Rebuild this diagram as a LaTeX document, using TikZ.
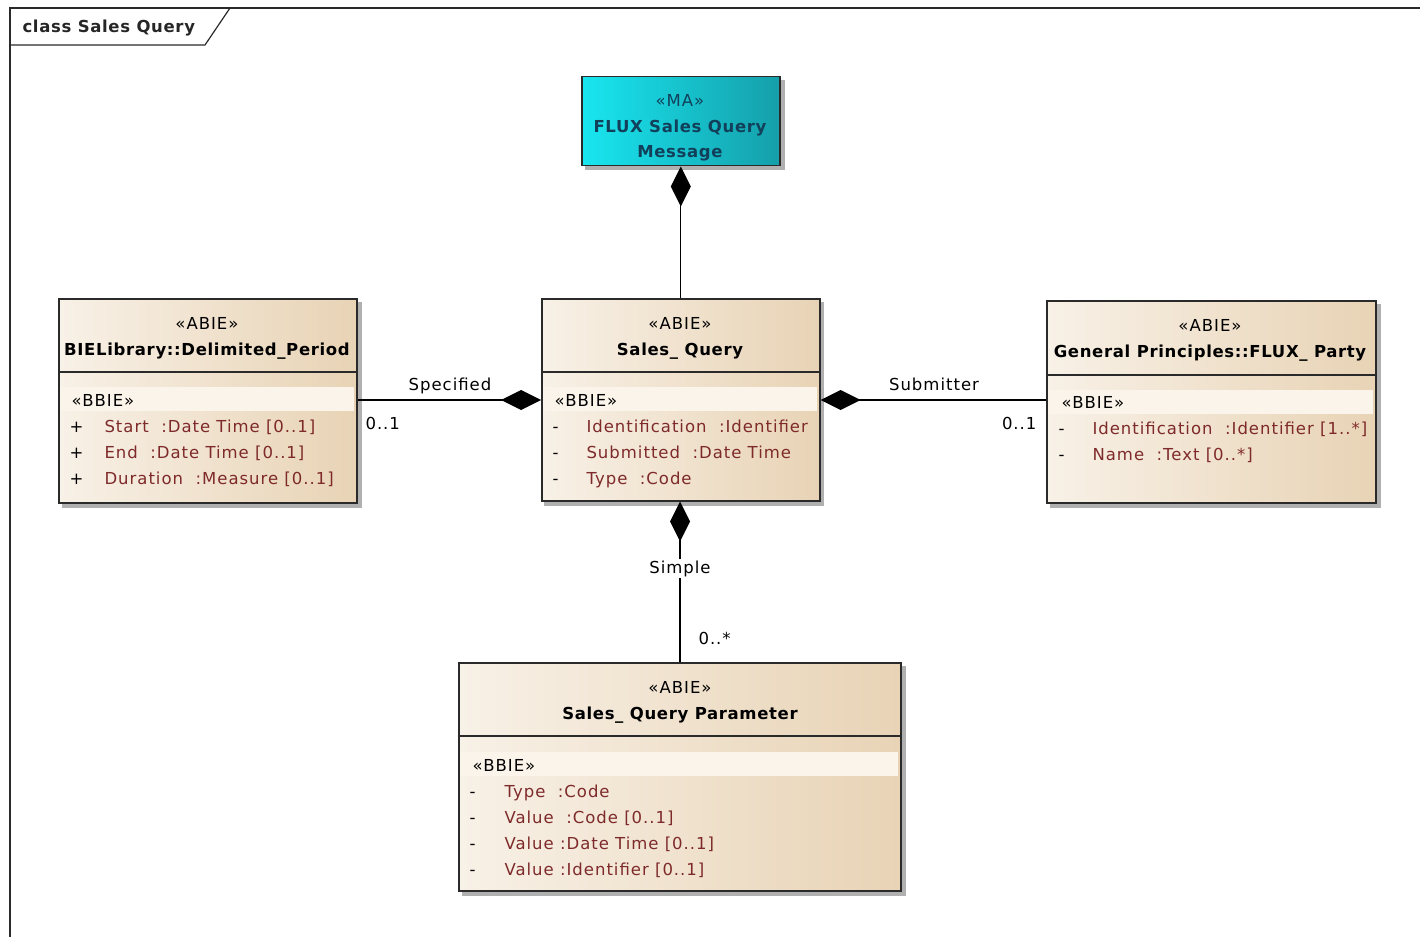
\documentclass[tikz,border=0pt]{standalone}
\usepackage{fontspec}
\setmainfont{DejaVu Sans}[LetterSpace=6, BoldFeatures={LetterSpace=4}]
\usetikzlibrary{arrows.meta,calc}
\definecolor{bgA}{HTML}{F8F1E7}
\definecolor{bgB}{HTML}{E8D3B5}
\definecolor{band}{HTML}{FBF4EA}
\definecolor{attr}{HTML}{7E2A2A}
\definecolor{cyA}{HTML}{18E6F0}
\definecolor{cyB}{HTML}{159FAA}
\definecolor{cyT}{HTML}{12405A}
\definecolor{edge}{HTML}{2A2A2A}
\definecolor{shad}{HTML}{B0B0B0}
\tikzset{
  cls/.style={draw=edge, line width=1.5pt, left color=bgA, right color=bgB, anchor=north west, inner sep=0pt},
  ma/.style={draw=edge, line width=1.5pt, left color=cyA, right color=cyB, anchor=north west, inner sep=0pt},
  hd/.style={font=\fontsize{16.5}{19}\selectfont, anchor=base, text=black},
  hdb/.style={font=\fontsize{16.5}{19}\selectfont\bfseries, anchor=base, text=black},
  mat/.style={font=\fontsize{16.5}{19}\selectfont\bfseries, anchor=base, text=cyT},
  st/.style={font=\fontsize{16.5}{19}\selectfont, anchor=base west, text=black},
  attrtxt/.style={font=\fontsize{16.5}{19}\selectfont, anchor=base west, text=attr},
  vis/.style={font=\fontsize{16.5}{19}\selectfont, anchor=base west, text=black},
  lbl/.style={font=\fontsize{16.5}{19}\selectfont, anchor=base, text=black},
  comp/.style={draw=black, line width=1.4pt, -{Diamond[length=40pt,width=20pt]}},
}
\begin{document}
\begin{tikzpicture}[x=1pt,y=-1pt]
\useasboundingbox (0,0) rectangle (1420,936);
\clip (0,0) rectangle (1420,936);
% frame
\draw[line width=1.2pt, draw=edge] (10,950) -- (10,8) -- (1430,8);
\draw[line width=1.2pt, draw=edge] (10,45) -- (205,45) -- (230,8);
\node[font=\fontsize{16.5}{19}\selectfont\bfseries, anchor=base west, text=black!85] (title) at (19,33) {class Sales Query};

% shadows
\fill[shad] (585,80) rectangle (785,170);
\fill[shad] (544,302) rectangle (824,506);
\fill[shad] (62,302) rectangle (362,508);
\fill[shad] (1050,304) rectangle (1381,508);
\fill[shad] (462,666) rectangle (906,896);

% FLUX message
\node[ma, minimum width=198pt, minimum height=89pt] (msg) at (581,76) {};
\node[hd, text=cyT] (msgs) at (680,107) {«MA»};
\node[mat] (msgn1) at (680,133) {FLUX Sales Query};
\node[mat] (msgn2) at (680,158) {Message};

% Sales Query
\node[cls, minimum width=278pt, minimum height=202pt] (sq) at (541,298) {};
\fill[band] (543,387) rectangle (817,411);
\draw[edge, line width=1.2pt] (541,372) -- (819,372);
\node[hd] (sqs) at (680,329) {«ABIE»};
\node[hdb] (sqn) at (680,355) {Sales\_ Query};
\node[st] (sqb) at (551,406) {«BBIE»};
\node[vis] (sqv1) at (549,432) {-};
\node[vis] (sqv2) at (549,458) {-};
\node[vis] (sqv3) at (549,484) {-};
\node[attrtxt] (sqa1) at (583,432) {Identification \ :Identifier};
\node[attrtxt] (sqa2) at (583,458) {Submitted \ :Date Time};
\node[attrtxt] (sqa3) at (583,484) {Type \ :Code};

% Delimited Period
\node[cls, minimum width=298pt, minimum height=204pt] (dp) at (58,298) {};
\fill[band] (60,387) rectangle (354,411);
\draw[edge, line width=1.2pt] (58,372) -- (356,372);
\node[hd] (dps) at (207,329) {«ABIE»};
\node[hdb] (dpn) at (207,355) {BIELibrary::Delimited\_Period};
\node[st] (dpb) at (68,406) {«BBIE»};
\node[vis] (dpv1) at (66,432) {+};
\node[vis] (dpv2) at (66,458) {+};
\node[vis] (dpv3) at (66,484) {+};
\node[attrtxt] (dpa1) at (101,432) {Start \ :Date Time [0..1]};
\node[attrtxt] (dpa2) at (101,458) {End \ :Date Time [0..1]};
\node[attrtxt] (dpa3) at (101,484) {Duration \ :Measure [0..1]};

% FLUX Party
\node[cls, minimum width=329pt, minimum height=202pt] (fp) at (1046,300) {};
\fill[band] (1048,390) rectangle (1373,414);
\draw[edge, line width=1.2pt] (1046,375) -- (1375,375);
\node[hd] (fps) at (1210,331) {«ABIE»};
\node[hdb] (fpn) at (1210,357) {General Principles::FLUX\_ Party};
\node[st] (fpb) at (1058,408) {«BBIE»};
\node[vis] (fpv1) at (1055,434) {-};
\node[vis] (fpv2) at (1055,460) {-};
\node[attrtxt] (fpa1) at (1089,434) {Identification \ :Identifier [1..*]};
\node[attrtxt] (fpa2) at (1089,460) {Name \ :Text [0..*]};

% Sales Query Parameter
\node[cls, minimum width=442pt, minimum height=228pt] (qp) at (458,662) {};
\fill[band] (460,752) rectangle (898,776);
\draw[edge, line width=1.2pt] (458,736) -- (900,736);
\node[hd] (qps) at (680,693) {«ABIE»};
\node[hdb] (qpn) at (680,719) {Sales\_ Query Parameter};
\node[st] (qpb) at (469,771) {«BBIE»};
\node[vis] (qpv1) at (466,797) {-};
\node[vis] (qpv2) at (466,823) {-};
\node[vis] (qpv3) at (466,849) {-};
\node[vis] (qpv4) at (466,875) {-};
\node[attrtxt] (qpa1) at (501,797) {Type \ :Code};
\node[attrtxt] (qpa2) at (501,823) {Value \ :Code [0..1]};
\node[attrtxt] (qpa3) at (501,849) {Value :Date Time [0..1]};
\node[attrtxt] (qpa4) at (501,875) {Value :Identifier [0..1]};

% connectors
\draw[comp] (msg.south |- sq.north) -- (msg.south);
\draw[comp] (dp.east |- 0,400) -- (sq.west |- 0,400);
\draw[comp] (fp.west |- 0,400) -- (sq.east |- 0,400);
\node[fill=white, inner sep=1pt, font=\fontsize{16.5}{19}\selectfont, anchor=base] (simp) at (680,573) {Simple};
\draw[line width=1.4pt] (qp.north -| simp.south) -- (simp.south);
\draw[comp] (simp.north) -- (simp.north |- sq.south);

% labels
\node[lbl] (l1) at (450,390) {Specified};
\node[lbl, anchor=base west] (l2) at (362,429) {0..1};
\node[lbl] (l3) at (934,390) {Submitter};
\node[lbl, anchor=base east] (l4) at (1040,429) {0..1};
\node[lbl, anchor=base west] (l5) at (695,644) {0..*};
\end{tikzpicture}
\end{document}
